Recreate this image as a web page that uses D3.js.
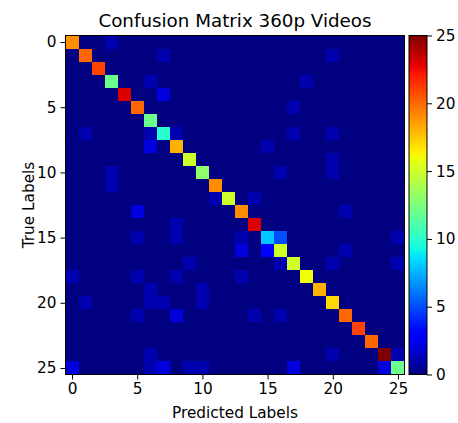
<!DOCTYPE html>
<html>
<head>
<meta charset="utf-8">
<script src="https://cdn.jsdelivr.net/npm/d3@7"></script>
<style>
  body { margin: 0; background: #fff; }
  svg text { font-family: "DejaVu Sans", sans-serif; fill: #000; }
</style>
</head>
<body>
<div id="chart"></div>
<script>
"use strict";

// class labels 0..25
var labels = d3.range(26);

// counts on the diagonal (correct predictions), row by row
var diagonal = [19, 20, 21, 12, 23, 20, 12, 10, 18, 15, 13, 19, 15,
  19, 23, 8, 15, 15, 16, 18, 17, 20, 21, 20, 25, 12];

// off-diagonal confusions: [true, predicted, count]
var offDiagonal = [
  [0, 3, 1], [1, 7, 1], [1, 20, 1], [3, 6, 1], [3, 18, 1], [4, 7, 2],
  [5, 17, 1], [7, 1, 1], [7, 6, 1], [7, 8, 1], [7, 17, 1], [7, 20, 1],
  [8, 6, 2], [8, 15, 1], [9, 20, 1], [10, 3, 1], [10, 16, 1], [10, 20, 1],
  [11, 3, 1], [12, 11, 1], [12, 14, 1], [13, 5, 2], [13, 21, 1], [14, 8, 1],
  [15, 5, 1], [15, 8, 1], [15, 13, 1], [15, 16, 5], [15, 25, 1],
  [16, 13, 2], [16, 15, 3], [16, 21, 1],
  [17, 9, 1], [17, 16, 1], [17, 20, 1], [17, 25, 1],
  [18, 0, 1], [18, 5, 1], [18, 8, 1], [18, 13, 1],
  [19, 6, 1], [19, 10, 1], [20, 1, 1], [20, 6, 1], [20, 7, 1], [20, 10, 1],
  [21, 5, 1], [21, 8, 2], [21, 14, 1], [21, 16, 1],
  [24, 6, 1], [24, 20, 1], [24, 25, 1],
  [25, 0, 2], [25, 6, 1], [25, 7, 2], [25, 9, 1], [25, 10, 1], [25, 17, 2], [25, 24, 2]
];

var tickValues = [0, 5, 10, 15, 20, 25];
var colorTicks = [0, 5, 10, 15, 20, 25];

// build full matrix
var cells = [];
labels.forEach(function(r) {
  labels.forEach(function(c) {
    cells.push({ row: r, col: c, value: r === c ? diagonal[r] : 0 });
  });
});
offDiagonal.forEach(function(d) {
  cells[d[0] * labels.length + d[1]].value = d[2];
});

var w = 458, h = 423;
var plotLeft = 65.5, plotTop = 35.5, size = 339;
var cbLeft = 409, cbWidth = 18;
var fs = "15.3px";

// matplotlib "jet"
var jr = d3.scaleLinear().domain([0, 0.35, 0.66, 0.89, 1]).range([0, 0, 1, 1, 0.5]).clamp(true);
var jg = d3.scaleLinear().domain([0, 0.125, 0.375, 0.64, 0.91, 1]).range([0, 0, 1, 1, 0, 0]).clamp(true);
var jb = d3.scaleLinear().domain([0, 0.11, 0.34, 0.65, 1]).range([0.5, 1, 1, 0, 0]).clamp(true);
function jet(t) {
  return d3.rgb(jr(t) * 255, jg(t) * 255, jb(t) * 255).formatHex();
}

var vmax = d3.max(cells, function(d) { return d.value; });
var norm = d3.scaleLinear().domain([0, vmax]).range([0, 1]);

var x = d3.scaleBand().domain(labels).range([plotLeft, plotLeft + size]);
var y = d3.scaleBand().domain(labels).range([plotTop, plotTop + size]);
var xt = d3.scaleLinear().domain([-0.5, 25.5]).range([plotLeft, plotLeft + size]);
var yt = d3.scaleLinear().domain([-0.5, 25.5]).range([plotTop, plotTop + size]);
var cy = d3.scaleLinear().domain([0, vmax]).range([plotTop + size, plotTop]);

var svg = d3.select("#chart").append("svg")
  .attr("width", w)
  .attr("height", h);

svg.append("g")
  .attr("shape-rendering", "crispEdges")
  .selectAll("rect")
  .data(cells)
  .enter()
  .append("rect")
  .attr("x", function(d) { return x(d.col); })
  .attr("y", function(d) { return y(d.row); })
  .attr("width", x.bandwidth() + 0.5)
  .attr("height", y.bandwidth() + 0.5)
  .attr("fill", function(d) { return jet(norm(d.value)); });

// axes
var xAxis = svg.append("g")
  .attr("transform", "translate(0," + (plotTop + size) + ")")
  .call(d3.axisBottom(xt).tickValues(tickValues).tickSize(5).tickPadding(4));
var yAxis = svg.append("g")
  .attr("transform", "translate(" + plotLeft + ",0)")
  .call(d3.axisLeft(yt).tickValues(tickValues).tickSize(5).tickPadding(4));
[xAxis, yAxis].forEach(function(a) {
  a.select(".domain").remove();
  a.selectAll("text").style("font-size", fs).style("font-family", "DejaVu Sans");
  a.selectAll("line").attr("stroke", "#000").attr("stroke-width", 1);
});

svg.append("rect")
  .attr("x", plotLeft).attr("y", plotTop)
  .attr("width", size).attr("height", size)
  .attr("fill", "none").attr("stroke", "#000").attr("stroke-width", 1);

// colorbar
var grad = svg.append("defs").append("linearGradient")
  .attr("id", "jet").attr("x1", 0).attr("y1", 1).attr("x2", 0).attr("y2", 0);
grad.selectAll("stop")
  .data(d3.range(0, 1.0001, 0.01))
  .enter()
  .append("stop")
  .attr("offset", function(d) { return d; })
  .attr("stop-color", function(d) { return jet(d); });

svg.append("rect")
  .attr("x", cbLeft).attr("y", plotTop)
  .attr("width", cbWidth).attr("height", size)
  .attr("fill", "url(#jet)")
  .attr("stroke", "#000").attr("stroke-width", 1);

var cAxis = svg.append("g")
  .attr("transform", "translate(" + (cbLeft + cbWidth) + ",0)")
  .call(d3.axisRight(cy).tickValues(colorTicks).tickSize(5).tickPadding(4));
cAxis.select(".domain").remove();
cAxis.selectAll("text").style("font-size", fs).style("font-family", "DejaVu Sans");
cAxis.selectAll("line").attr("stroke", "#000").attr("stroke-width", 1);

// labels
svg.append("text")
  .attr("x", plotLeft + size / 2).attr("y", 27)
  .attr("text-anchor", "middle")
  .style("font-size", "18.3px")
  .text("Confusion Matrix 360p Videos");

svg.append("text")
  .attr("x", plotLeft + size / 2).attr("y", 418)
  .attr("text-anchor", "middle")
  .style("font-size", fs)
  .text("Predicted Labels");

svg.append("text")
  .attr("transform", "translate(34," + (plotTop + size / 2) + ") rotate(-90)")
  .attr("text-anchor", "middle")
  .style("font-size", fs)
  .text("True Labels");
</script>
</body>
</html>
